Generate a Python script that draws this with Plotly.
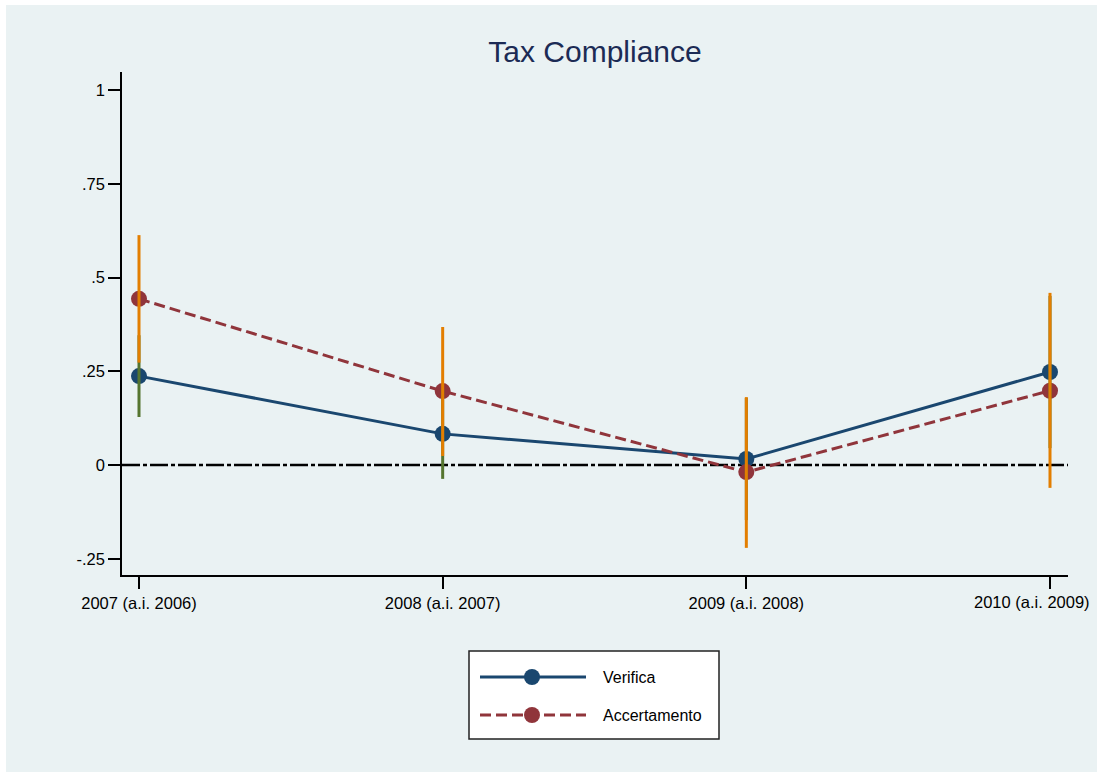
import plotly.graph_objects as go

# Survey years and their fiscal year labels
categories = ["2007 (a.i. 2006)", "2008 (a.i. 2007)", "2009 (a.i. 2008)", "2010 (a.i. 2009)"]
xpos = [1, 2, 3, 4]

# Point estimates
verifica = [0.237, 0.083, 0.016, 0.248]
accertamento = [0.443, 0.197, -0.019, 0.198]

# Confidence intervals
verifica_lo = [0.128, -0.037, -0.147, 0.045]
verifica_hi = [0.346, 0.203, 0.179, 0.451]
accert_lo = [0.273, 0.024, -0.221, -0.061]
accert_hi = [0.613, 0.368, 0.181, 0.459]

ytick_vals = [-0.25, 0, 0.25, 0.5, 0.75, 1]
ytick_text = ["-.25", "0", ".25", ".5", ".75", "1"]

NAVY = "#1a476f"
MAROON = "#90353b"
GREEN = "#55752f"
ORANGE = "#e37e00"
BG = "#eaf2f3"
FONT = "Arial, 'Liberation Sans', sans-serif"
TICK_SIZE = 16.5

W, H = 1097, 772
L, R, T, B = 122, 1068, 72, 575

XRANGE = [1 - 17 / 303.67, 4 + 18 / 303.67]
YRANGE = [(465 - 575) / 375, (465 - 72) / 375]


def px(x):
    return (x - L) / (R - L)


def py(y):
    return (B - y) / (B - T)


fig = go.Figure()

# horizontal reference line at zero, spanning the full x range
fig.add_trace(go.Scatter(
    x=XRANGE, y=[0, 0], mode="lines",
    line=dict(color="black", width=2.5, dash="18px,3px,4px,3px"),
    showlegend=False, hoverinfo="skip"))

fig.add_trace(go.Scatter(
    x=xpos, y=verifica, mode="lines+markers", name="Verifica",
    line=dict(color=NAVY, width=3),
    marker=dict(color=NAVY, size=16), showlegend=False))

fig.add_trace(go.Scatter(
    x=xpos, y=accertamento, mode="lines+markers", name="Accertamento",
    line=dict(color=MAROON, width=3, dash="11px,5px"),
    marker=dict(color=MAROON, size=16), showlegend=False))


def ci_segments(lo, hi):
    xs, ys = [], []
    for xv, a, b in zip(xpos, lo, hi):
        xs += [xv, xv, None]
        ys += [a, b, None]
    return xs, ys


gx, gy = ci_segments(verifica_lo, verifica_hi)
fig.add_trace(go.Scatter(x=gx, y=gy, mode="lines",
                         line=dict(color=GREEN, width=3), showlegend=False,
                         hoverinfo="skip"))
ox, oy = ci_segments(accert_lo, accert_hi)
fig.add_trace(go.Scatter(x=ox, y=oy, mode="lines",
                         line=dict(color=ORANGE, width=3), showlegend=False,
                         hoverinfo="skip"))

shapes = [
    # graph region background
    dict(type="rect", xref="paper", yref="paper",
         x0=px(6), x1=px(W), y0=py(H), y1=py(5),
         fillcolor=BG, line=dict(width=0), layer="below"),
    # legend box
    dict(type="rect", xref="paper", yref="paper",
         x0=px(469), x1=px(719), y0=py(739), y1=py(651),
         fillcolor="white", line=dict(color="#222222", width=1.5)),
    dict(type="line", xref="paper", yref="paper",
         x0=px(480), x1=px(586), y0=py(677), y1=py(677),
         line=dict(color=NAVY, width=3)),
    dict(type="line", xref="paper", yref="paper",
         x0=px(480), x1=px(586), y0=py(715), y1=py(715),
         line=dict(color=MAROON, width=3, dash="11px,5px")),
]
for cy, col in [(677, NAVY), (715, MAROON)]:
    shapes.append(dict(type="circle", xref="paper", yref="paper",
                       x0=px(532 - 8), x1=px(532 + 8),
                       y0=py(cy + 8), y1=py(cy - 8),
                       fillcolor=col, line=dict(width=0)))

annotations = [
    dict(text="Verifica", xref="paper", yref="paper", x=px(601), y=py(677),
         xanchor="left", yanchor="middle", showarrow=False,
         font=dict(family=FONT, size=16, color="black")),
    dict(text="Accertamento", xref="paper", yref="paper", x=px(601), y=py(715),
         xanchor="left", yanchor="middle", showarrow=False,
         font=dict(family=FONT, size=16, color="black")),
    # last category label, nudged left so it stays inside the graph region
    dict(text=categories[-1], xref="x", yref="paper", x=xpos[-1], y=py(602),
         xanchor="center", yanchor="middle", xshift=-18, showarrow=False,
         font=dict(family=FONT, size=TICK_SIZE, color="black")),
]

fig.update_layout(
    width=W, height=H,
    margin=dict(l=L, r=W - R, t=T, b=H - B, pad=0, autoexpand=False),
    paper_bgcolor="white",
    plot_bgcolor="white",
    title=dict(text="Tax Compliance", x=0.5, xref="paper",
               y=1 - 51 / H, yref="container", yanchor="middle",
               font=dict(family=FONT, size=30, color="#1c2b55")),
    font=dict(family=FONT, size=16, color="black"),
    shapes=shapes,
    annotations=annotations,
    showlegend=False,
)

fig.update_xaxes(
    range=XRANGE,
    tickmode="array", tickvals=xpos, ticktext=categories[:-1] + [""],
    showgrid=False, zeroline=False, automargin=False,
    showline=True, linecolor="black", linewidth=1.5,
    ticks="outside", ticklen=12, tickwidth=1.5, tickcolor="black",
    ticklabeloverflow="allow",
    tickfont=dict(family=FONT, size=TICK_SIZE, color="black"),
)
fig.update_yaxes(
    range=YRANGE,
    tickmode="array", tickvals=ytick_vals, ticktext=ytick_text,
    showgrid=True, gridcolor=BG, gridwidth=2, zeroline=False, automargin=False,
    showline=True, linecolor="black", linewidth=1.5,
    ticks="outside", ticklen=12, tickwidth=1.5, tickcolor="black",
    tickfont=dict(family=FONT, size=TICK_SIZE, color="black"),
)

fig.write_html("out.html")
